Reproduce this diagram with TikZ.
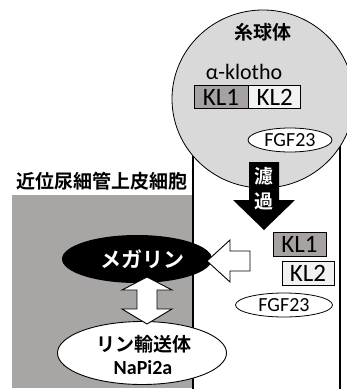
\documentclass[tikz,border=0pt]{standalone}
\usepackage{fontspec}
\setmainfont{Carlito}
\newfontfamily\jp{Noto Sans CJK JP}[BoldFont={Noto Sans CJK JP Bold}]
\usetikzlibrary{shapes.geometric}
\definecolor{cellgray}{HTML}{A8A5A5}
\definecolor{glomgray}{HTML}{D9D9D9}
\definecolor{klone}{HTML}{A6A2A2}
\definecolor{kltwo}{HTML}{F2F2F2}
\tikzset{
  jplab/.style={font=\jp\bfseries\fontsize{19}{21}\selectfont, inner sep=0pt},
  klbox/.style={draw=black, line width=0.6pt, minimum height=23pt, inner sep=0pt, font=\fontsize{25}{27}\selectfont},
  fgf/.style={ellipse, draw=black, line width=0.8pt, fill=white, inner sep=0pt, font=\fontsize{20}{22}\selectfont},
  blockarrow/.style={draw=black, line width=0.9pt, fill=white, line join=miter},
}
\begin{document}
\begin{tikzpicture}[x=1pt, y=-1pt]
\useasboundingbox (0,0) rectangle (347,389);
\fill[white] (0,0) rectangle (347,389);
% lumen lines
\coordinate (lumtl) at (193,100);
\coordinate (lumbl) at (193,389);
\coordinate (lumtr) at (340,100);
\coordinate (lumbr) at (340,389);
\draw[line width=1.1pt] (lumtr) -- (lumbr);
% proximal tubule cell
\fill[cellgray] (12,195) rectangle (193,388);
\draw[line width=1.1pt] (lumtl) -- (lumbl);
\node[jplab, anchor=center] (celllab) at (102,181) {近位尿細管上皮細胞};
% glomerulus
\node[ellipse, draw=black, line width=0.8pt, fill=glomgray, minimum width=182pt, minimum height=178pt, inner sep=0pt] (glom) at (263,99) {};
\node[jplab] (glomlab) at (263,32) {糸球体};
\node[font=\fontsize{22}{24}\selectfont, inner sep=0pt] (klotho) at (244,72) {α-klotho};
\node[klbox, fill=klone, minimum width=54pt] (kla) at (221,97) {KL1};
\node[klbox, fill=kltwo, minimum width=52pt, anchor=west] (klb) at (kla.east) {KL2};
\node[fgf, minimum width=84pt, minimum height=24pt] (fgfa) at (290,140) {FGF23};
% filtration arrow
\fill[black] (249,162) -- (279,162) -- (279,200) -- (295,200) -- (264,230) -- (233,200) -- (249,200) -- cycle;
\node[jplab, text=white] (roka1) at (264,176) {濾};
\node[jplab, text=white] (roka2) at (264,201) {過};
% filtered components
\node[klbox, fill=klone, minimum width=53pt, minimum height=24pt] (klc) at (299.5,244) {KL1};
\node[klbox, fill=kltwo, minimum width=52pt, minimum height=24pt] (kld) at (308,273) {KL2};
\node[fgf, minimum width=97pt, minimum height=24pt] (fgfb) at (284,305) {FGF23};
% megalin
\node[ellipse, fill=black, minimum width=150pt, minimum height=48pt, inner sep=0pt] (megalin) at (137,259) {};
\node[jplab, text=white, font=\jp\bfseries\fontsize{21}{23}\selectfont] (megalab) at (142,259) {メガリン};
% transporter
\node[ellipse, draw=black, line width=0.9pt, fill=white, minimum width=169pt, minimum height=63pt, inner sep=0pt] (napi) at (142,353) {};
\node[jplab] (napilab1) at (144,344) {リン輸送体};
\node[font=\bfseries\fontsize{20}{22}\selectfont, inner sep=0pt] (napilab2) at (143,368) {NaPi2a};
% uptake arrow (open, pointing left)
\draw[blockarrow] (207,261) -- (230,240) -- (230,251) -- (250,251) -- (250,271) -- (230,271) -- (230,282) -- cycle;
% double arrow
\draw[blockarrow] (147,277) -- (172,290) -- (157,290) -- (157,309) -- (172,309) -- (147,324) -- (122,309) -- (137,309) -- (137,290) -- (122,290) -- cycle;
\end{tikzpicture}
\end{document}
